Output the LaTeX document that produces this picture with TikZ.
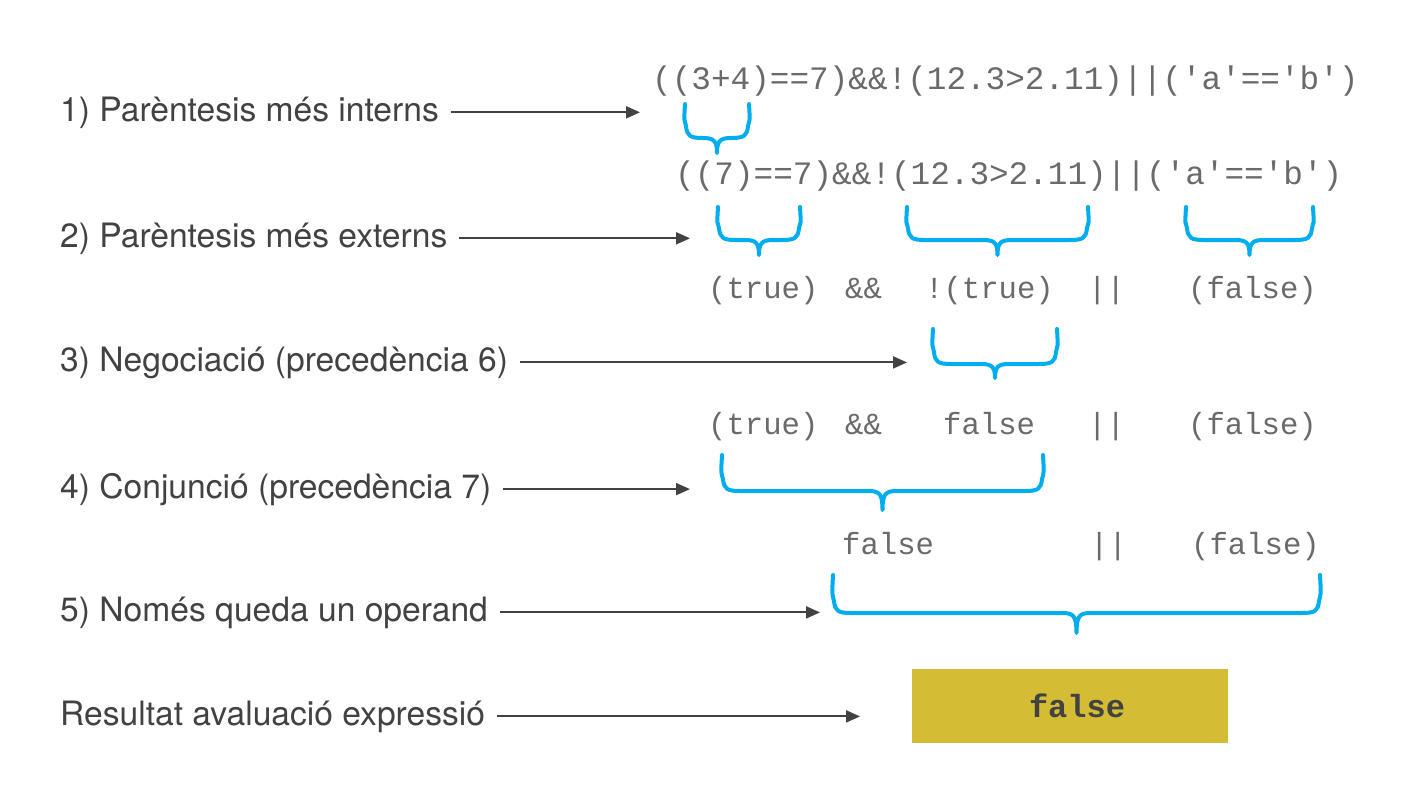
\documentclass[tikz,border=0pt]{standalone}
\usepackage{fontspec}
\setmainfont{TeX Gyre Heros}
\setmonofont{Liberation Mono}
\usetikzlibrary{arrows.meta}
\definecolor{txt}{HTML}{424242}
\definecolor{codec}{HTML}{6A6A6A}
\definecolor{brc}{HTML}{00ADEE}
\definecolor{boxc}{HTML}{D4BC35}
% #1 x left, #2 x right, #3 y top, #4 y of horizontal part, #5 y of tip
\newcommand\curlybrace[5]{%
  \draw[bracestyle] (#1,#3) .. controls ({#1-1},{(#3+#4)/2}) .. ({#1+1},{#4-12})
    .. controls ({#1+2},{#4-2}) and ({#1+5},#4) .. ({#1+18},#4)
    -- ({(#1+#2)/2-14},#4)
    .. controls ({(#1+#2)/2-3},#4) and ({(#1+#2)/2},{#4+3}) .. ({(#1+#2)/2},#5)
    .. controls ({(#1+#2)/2},{#4+3}) and ({(#1+#2)/2+3},#4) .. ({(#1+#2)/2+14},#4)
    -- ({#2-18},#4)
    .. controls ({#2-5},#4) and ({#2-2},{#4-2}) .. ({#2-1},{#4-12})
    .. controls ({#2+1},{(#3+#4)/2}) .. (#2,#3);}
\begin{document}
\begin{tikzpicture}[x=1pt,y=-1pt,
  lbl/.style={font=\fontsize{33.6}{40}\selectfont, text=txt, anchor=base west, inner sep=0pt},
  codetxt/.style={font=\ttfamily\fontsize{32.7}{38}\selectfont, text=codec, anchor=base west, inner sep=0pt},
  codesm/.style={codetxt, font=\ttfamily\fontsize{30.6}{36}\selectfont},
  conn/.style={draw=txt, line width=2pt, -{Triangle[length=14pt,width=12pt]}},
  bracestyle/.style={draw=brc, line width=4pt, line cap=round, line join=round}]
\fill[white] (0,0) rectangle (1417,803);
% labels
\node[lbl] (l1) at (60,121) {1) Parèntesis més interns};
\node[lbl] (l2) at (60,247) {2) Parèntesis més externs};
\node[lbl] (l3) at (60,371) {3) Negociació (precedència 6)};
\node[lbl] (l4) at (60,498) {4) Conjunció (precedència 7)};
\node[lbl] (l5) at (60,621) {5) Només queda un operand};
\node[lbl] (l6) at (60,725) {Resultat avaluació expressió};
\coordinate (a1) at (640,113);
\coordinate (a2) at (690,237);
\coordinate (a3) at (907,364);
\coordinate (a4) at (690,490);
\coordinate (a5) at (820,613);
\coordinate (a6) at (860,715);
\foreach \i in {1,...,6}{\draw[conn] ([xshift=12pt]l\i.east) -- (l\i.east -| a\i);}
% code rows
\node[codetxt] (r1) at (652,89) {((3+4)==7)\&\&!(12.3>2.11)||('a'=='b')};
\node[codetxt] (r2) at (675,184) {((7)==7)\&\&!(12.3>2.11)||('a'=='b')};
\node[codesm] (r3a) at (708,298) {(true)};
\node[codesm] (r3b) at (845,298) {\&\&};
\node[codesm] (r3c) at (925,298) {!(true)};
\node[codesm] (r3d) at (1088,298) {||};
\node[codesm] (r3e) at (1188,298) {(false)};
\node[codesm] (r4a) at (708,434) {(true)};
\node[codesm] (r4b) at (845,434) {\&\&};
\node[codesm] (r4c) at (943,434) {false};
\node[codesm] (r4d) at (1088,434) {||};
\node[codesm] (r4e) at (1188,434) {(false)};
\node[codesm] (r5a) at (842,554) {false};
\node[codesm] (r5b) at (1090,554) {||};
\node[codesm] (r5c) at (1191,554) {(false)};
% braces
\curlybrace{685}{749}{104}{138}{153}
\curlybrace{718}{800}{207}{240}{255}
\curlybrace{907}{1088}{207}{240}{255}
\curlybrace{1186}{1313}{207}{240}{255}
\curlybrace{933}{1057}{329}{364}{378}
\curlybrace{722}{1043}{455}{491}{510}
\curlybrace{833}{1320}{575}{613}{633}
% result
\node[fill=boxc, minimum width=316pt, minimum height=74pt, inner sep=0pt,
  font=\ttfamily\bfseries\fontsize{32}{38}\selectfont, text=txt] (res) at (1070,706) {\hspace*{14pt}false};
\end{tikzpicture}
\end{document}
